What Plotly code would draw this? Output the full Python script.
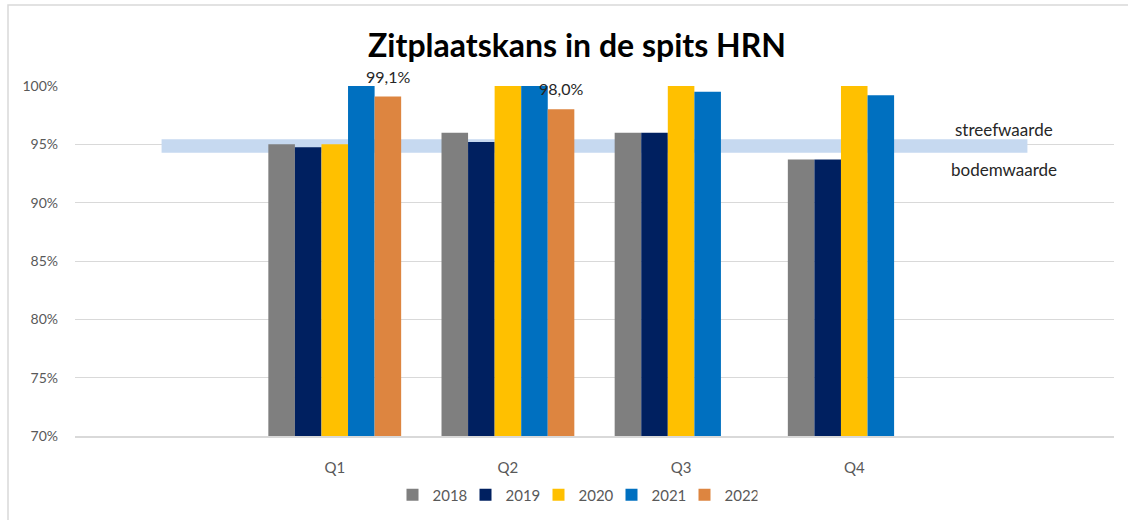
import plotly.graph_objects as go

# ---- data ----
slot_labels = ["", "Q1", "Q2", "Q3", "Q4", ""]
quarters = ["Q1", "Q2", "Q3", "Q4"]
years = ["2018", "2019", "2020", "2021", "2022"]
v2018 = [95.0, 96.0, 96.0, 93.7]
v2019 = [94.75, 95.2, 96.0, 93.7]
v2020 = [95.0, 100.0, 100.0, 100.0]
v2021 = [100.0, 100.0, 99.5, 99.2]
v2022 = [99.1, 98.0, None, None]
band = [94.85, 94.85, 94.85, 94.85, 94.85, 94.85]
colors = ["#7F7F7F", "#002060", "#FFC000", "#0070C0", "#DD8540"]
series = [v2018, v2019, v2020, v2021, v2022]

W, H = 1128, 520
ML, MR, MT, MB = 75, 14, 86, 84
PW = W - ML - MR
PH = H - MT - MB
BARGAP = 0.233

def px_x(p):
    return (p - ML) / PW

def px_y(p):
    return (H - MB - p) / PH

slot_x = list(range(len(slot_labels)))
q_x = [slot_x[slot_labels.index(q)] for q in quarters]

font_fam = "Lato, Calibri, Arial, sans-serif"

fig = go.Figure()

# band (drawn on base axes, below bars)
fig.add_trace(go.Scatter(
    x=slot_x, y=band, mode="lines",
    line=dict(color="#C6D9F0", width=13.5),
    showlegend=False, hoverinfo="skip", xaxis="x", yaxis="y",
))

for name, vals, col in zip(years, series, colors):
    fig.add_trace(go.Bar(
        x=q_x, y=vals, name=name, marker=dict(color=col, line=dict(width=0)),
        xaxis="x2", yaxis="y2",
    ))

# data labels for 2022
slot_px = PW / len(slot_labels)
bar_px = slot_px * (1 - BARGAP) / len(years)
annotations = []
for xq, v in zip(q_x, v2022):
    if v is None:
        continue
    annotations.append(dict(
        x=xq, y=v, xref="x2", yref="y2", xshift=2 * bar_px, yshift=9,
        text=f"{v:.1f}".replace(".", ",") + "%", showarrow=False,
        yanchor="bottom", xanchor="center",
        font=dict(family=font_fam, size=16, color="#262626"),
    ))

annotations.append(dict(
    x=px_x(1004), y=px_y(129), xref="paper", yref="paper",
    text="streefwaarde", showarrow=False, xanchor="center", yanchor="middle",
    font=dict(family=font_fam, size=17, color="#262626"),
))
annotations.append(dict(
    x=px_x(1004), y=px_y(169), xref="paper", yref="paper",
    text="bodemwaarde", showarrow=False, xanchor="center", yanchor="middle",
    font=dict(family=font_fam, size=17, color="#262626"),
))
annotations.append(dict(
    x=px_x(577), y=px_y(45), xref="paper", yref="paper",
    text="<b>Zitplaatskans in de spits HRN</b>", showarrow=False,
    xanchor="center", yanchor="middle",
    font=dict(family=font_fam, size=32, color="#000000"),
))

shapes = [dict(
    type="rect", xref="paper", yref="paper",
    x0=px_x(8), x1=px_x(1150), y0=px_y(540), y1=px_y(5),
    line=dict(color="#D9D9D9", width=1.5), fillcolor="rgba(0,0,0,0)", layer="below",
)]

fig.update_layout(
    width=W, height=H,
    margin=dict(l=ML, r=MR, t=MT, b=MB, autoexpand=False),
    paper_bgcolor="white", plot_bgcolor="white",
    barmode="group", bargap=BARGAP, bargroupgap=0,
    font=dict(family=font_fam, size=14, color="#595959"),
    showlegend=True,
    legend=dict(
        orientation="h", x=px_x(575), xanchor="center", y=px_y(495), yanchor="middle",
        font=dict(family=font_fam, size=15, color="#595959"),
        itemwidth=30, entrywidth=28, traceorder="normal", bgcolor="rgba(0,0,0,0)",
    ),
    xaxis=dict(
        range=[-0.5, len(slot_labels) - 0.5], tickmode="array",
        tickvals=slot_x, ticktext=slot_labels, showgrid=False, zeroline=False,
        showline=True, linecolor="#D9D9D9", linewidth=2, ticks="",
        ticklabelstandoff=17, tickfont=dict(size=15, color="#595959"),
        fixedrange=True,
    ),
    yaxis=dict(
        range=[70, 100], dtick=5, ticksuffix="%", showgrid=True,
        gridcolor="#D9D9D9", gridwidth=1.2, zeroline=False, showline=False,
        ticks="", ticklabelstandoff=16, tickfont=dict(size=14, color="#595959"),
        fixedrange=True,
    ),
    xaxis2=dict(
        overlaying="x", range=[-0.5, len(slot_labels) - 0.5], visible=False,
        fixedrange=True,
    ),
    yaxis2=dict(
        overlaying="y", range=[70, 100], visible=False, fixedrange=True,
    ),
    annotations=annotations,
    shapes=shapes,
)

fig.write_html(
    "out.html",
    config={"displayModeBar": False},
    post_script="document.body.style.margin='0';document.body.style.padding='0';",
)
